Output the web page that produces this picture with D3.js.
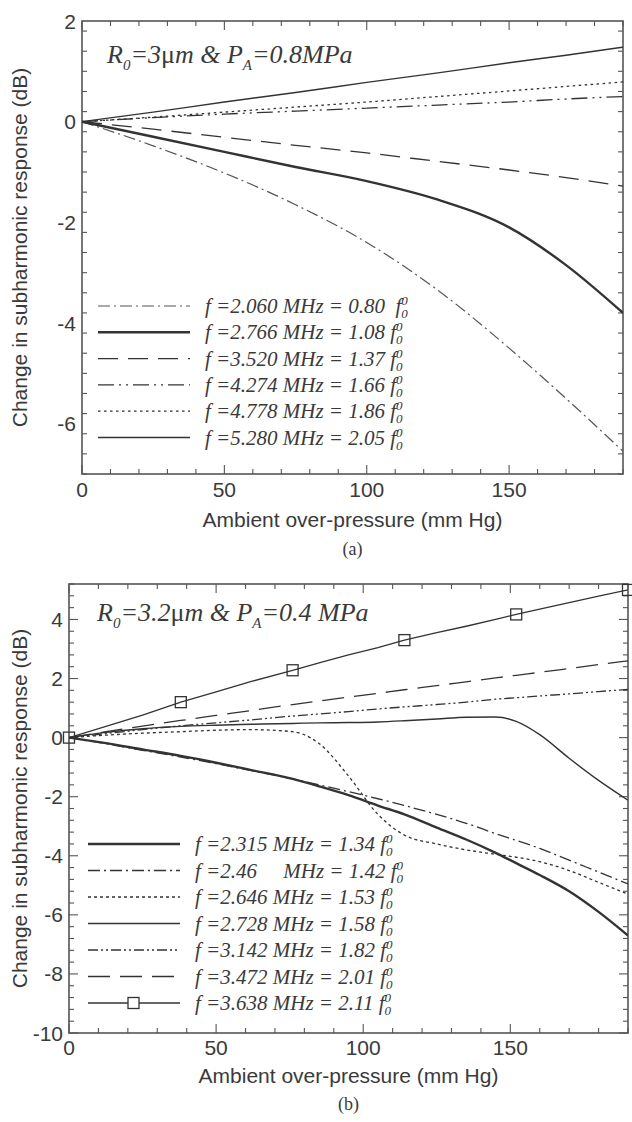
<!DOCTYPE html>
<html>
<head>
<meta charset="utf-8">
<script src="https://cdn.jsdelivr.net/npm/d3@7"></script>
<style>
  body { margin: 0; background: #fff; }
  svg { display: block; }
</style>
</head>
<body>
<div id="chart"></div>
<script>
// ---- panel (a) data ----
var aPressure = [0, 25, 50, 75, 100, 125, 150, 170, 190];
var aF2060 = [0, -0.48, -1.02, -1.65, -2.4, -3.35, -4.5, -5.5, -6.55];
var aF2766 = [0, -0.3, -0.6, -0.9, -1.18, -1.55, -2.1, -2.85, -3.8];
var aF3520 = [0, -0.15, -0.31, -0.47, -0.62, -0.79, -0.96, -1.11, -1.28];
var aF4274 = [0, 0.08, 0.15, 0.21, 0.27, 0.33, 0.39, 0.45, 0.5];
var aF4778 = [0, 0.09, 0.19, 0.29, 0.39, 0.5, 0.61, 0.7, 0.79];
var aF5280 = [0, 0.19, 0.39, 0.58, 0.78, 0.97, 1.17, 1.32, 1.48];
var aLabels = [
  ["2.060", "0.80\u00a0"], ["2.766", "1.08"], ["3.520", "1.37"],
  ["4.274", "1.66"], ["4.778", "1.86"], ["5.280", "2.05"]
];

// ---- panel (b) data ----
var bPressure = [0, 12, 25, 38, 50, 62, 76, 85, 95, 105, 114, 125, 135, 145, 152, 160, 170, 180, 190];
var bF2315 = [0, -0.18, -0.4, -0.62, -0.85, -1.1, -1.4, -1.65, -1.95, -2.3, -2.6, -3.05, -3.45, -3.9, -4.25, -4.65, -5.2, -5.9, -6.7];
var bF2460 = [0, -0.2, -0.43, -0.66, -0.88, -1.12, -1.4, -1.6, -1.83, -2.07, -2.3, -2.6, -2.9, -3.25, -3.48, -3.75, -4.15, -4.55, -4.95];
var bF2646 = [0, 0.08, 0.15, 0.2, 0.25, 0.27, 0.2, -0.2, -1.3, -2.6, -3.3, -3.6, -3.8, -3.95, -4.05, -4.2, -4.5, -4.9, -5.3];
var bF2728 = [0, 0.17, 0.3, 0.38, 0.42, 0.45, 0.48, 0.5, 0.51, 0.53, 0.57, 0.63, 0.69, 0.7, 0.55, 0.1, -0.7, -1.45, -2.12];
var bF3142 = [0, 0.13, 0.27, 0.4, 0.5, 0.6, 0.73, 0.8, 0.88, 0.97, 1.04, 1.12, 1.2, 1.3, 1.35, 1.41, 1.48, 1.56, 1.63];
var bF3472 = [0, 0.19, 0.39, 0.58, 0.75, 0.92, 1.12, 1.24, 1.37, 1.5, 1.62, 1.76, 1.89, 2.02, 2.11, 2.21, 2.34, 2.47, 2.6];
var bF3638 = [0, 0.36, 0.76, 1.2, 1.55, 1.9, 2.28, 2.53, 2.8, 3.05, 3.3, 3.55, 3.77, 4.0, 4.17, 4.35, 4.57, 4.79, 5.0];
var bMarkerPressure = [0, 38, 76, 114, 152, 190];
var bLabels = [
  ["2.315", "1.34"], ["2.46\u00a0\u00a0\u00a0\u00a0", "1.42"], ["2.646", "1.53"], ["2.728", "1.58"],
  ["3.142", "1.82"], ["3.472", "2.01"], ["3.638", "2.11"]
];

var W = 632, H = 1122;
var svg = d3.select("#chart").append("svg").attr("width", W).attr("height", H);

var sansFont = "'Liberation Sans', Arial, sans-serif";
var serifFont = "'Liberation Serif', 'Times New Roman', serif";
var axisCol = "#555";
var lineCol = "#333";
var textCol = "#3a3a3a";

function drawPanel(cfg) {
  var x = d3.scaleLinear().domain([0, 190]).range([cfg.left, cfg.right]);
  var y = d3.scaleLinear().domain(cfg.yDomain).range([cfg.bottom, cfg.top]);
  var g = svg.append("g");

  // inward ticks on all four sides
  var xMinor = d3.range(0, 191, 10);
  var yMinor = d3.range(cfg.yDomain[0], cfg.yDomain[1] + 0.001, 0.4);
  var tickData = [];
  xMinor.forEach(function (v) {
    var big = v % 50 === 0;
    tickData.push({ x1: x(v), x2: x(v), y1: cfg.bottom, y2: cfg.bottom - (big ? 9 : 5) });
    tickData.push({ x1: x(v), x2: x(v), y1: cfg.top, y2: cfg.top + (big ? 9 : 5) });
  });
  yMinor.forEach(function (v) {
    var r = Math.round(v * 10) / 10;
    var big = Math.abs(r % 2) < 0.01;
    tickData.push({ x1: cfg.left, x2: cfg.left + (big ? 9 : 5), y1: y(r), y2: y(r) });
    tickData.push({ x1: cfg.right, x2: cfg.right - (big ? 9 : 5), y1: y(r), y2: y(r) });
  });
  g.selectAll(".tick").data(tickData).enter().append("line")
    .attr("x1", function (d) { return d.x1; })
    .attr("x2", function (d) { return d.x2; })
    .attr("y1", function (d) { return d.y1; })
    .attr("y2", function (d) { return d.y2; })
    .attr("stroke", axisCol).attr("stroke-width", 1.1);

  g.append("rect")
    .attr("x", cfg.left).attr("y", cfg.top)
    .attr("width", cfg.right - cfg.left).attr("height", cfg.bottom - cfg.top)
    .attr("fill", "none").attr("stroke", axisCol).attr("stroke-width", 1.6);

  // tick labels
  g.selectAll(".xl").data([0, 50, 100, 150]).enter().append("text")
    .attr("x", function (d) { return x(d); })
    .attr("y", cfg.bottom + cfg.xLabelGap)
    .attr("text-anchor", "middle")
    .style("font-family", sansFont).style("font-size", "21px").style("fill", textCol)
    .text(function (d) { return d; });
  g.selectAll(".yl").data(cfg.yTicks).enter().append("text")
    .attr("x", cfg.left - 6)
    .attr("y", function (d) { return y(d) + 7.5; })
    .attr("text-anchor", "end")
    .style("font-family", sansFont).style("font-size", "21px").style("fill", textCol)
    .text(function (d) { return d; });

  g.append("text")
    .attr("x", (cfg.left + cfg.right) / 2)
    .attr("y", cfg.bottom + cfg.xTitleGap)
    .attr("text-anchor", "middle")
    .style("font-family", sansFont).style("font-size", "21px").style("fill", textCol)
    .text("Ambient over-pressure (mm Hg)");
  g.append("text")
    .attr("transform", "translate(" + cfg.yTitleX + "," + ((cfg.top + cfg.bottom) / 2) + ") rotate(-90)")
    .attr("text-anchor", "middle")
    .style("font-family", sansFont).style("font-size", "21px").style("fill", textCol)
    .text("Change in subharmonic response (dB)");
  g.append("text")
    .attr("x", (cfg.left + cfg.right) / 2)
    .attr("y", cfg.bottom + cfg.tagGap)
    .attr("text-anchor", "middle")
    .style("font-family", serifFont).style("font-size", "18px").style("fill", textCol)
    .text(cfg.tag);

  // annotation
  var ann = g.append("text")
    .attr("x", cfg.annX).attr("y", cfg.annY)
    .style("font-family", serifFont).style("font-style", "italic")
    .style("font-size", "26px").style("fill", textCol);
  ann.append("tspan").text("R");
  ann.append("tspan").attr("dy", 7).style("font-size", "15px").text("0");
  ann.append("tspan").attr("dy", -7).text("=" + cfg.annR);
  ann.append("tspan").style("font-style", "normal").text("\u03bc");
  ann.append("tspan").text("m & P");
  ann.append("tspan").attr("dy", 7).style("font-size", "15px").text("A");
  ann.append("tspan").attr("dy", -7).text("=" + cfg.annP);

  // curves
  var clip = "clip" + cfg.tag.replace(/\W/g, "");
  svg.append("clipPath").attr("id", clip).append("rect")
    .attr("x", cfg.left).attr("y", cfg.top)
    .attr("width", cfg.right - cfg.left).attr("height", cfg.bottom - cfg.top);

  var smooth = d3.line()
    .x(function (d) { return x(d[0]); })
    .y(function (d) { return y(d[1]); })
    .curve(d3.curveMonotoneX);
  var straight = d3.line()
    .x(function (d) { return x(d[0]); })
    .y(function (d) { return y(d[1]); });

  var curves = g.append("g").attr("clip-path", "url(#" + clip + ")");
  cfg.series.forEach(function (s) {
    var pts = cfg.xs.map(function (v, i) { return [v, s.values[i]]; });
    curves.append("path")
      .datum(pts)
      .attr("d", s.marker ? straight : smooth)
      .attr("fill", "none")
      .attr("stroke", s.color || lineCol)
      .attr("stroke-width", s.width)
      .attr("stroke-dasharray", s.dash);
  });

  // square markers
  cfg.series.forEach(function (s) {
    if (!s.marker) return;
    var mpts = s.marker.map(function (v) { return [v, s.values[cfg.xs.indexOf(v)]]; });
    g.selectAll(".mk").data(mpts).enter().append("rect")
      .attr("x", function (d) { return x(d[0]) - 5.5; })
      .attr("y", function (d) { return y(d[1]) - 5.5; })
      .attr("width", 11).attr("height", 11)
      .attr("fill", "none").attr("stroke", lineCol).attr("stroke-width", 1.3);
  });

  // legend
  var leg = g.selectAll(".leg").data(cfg.series).enter().append("g")
    .attr("transform", function (d, i) {
      return "translate(0," + (cfg.legY + i * cfg.legStep) + ")";
    });
  leg.append("line")
    .attr("x1", cfg.legX1).attr("x2", cfg.legX2).attr("y1", 0).attr("y2", 0)
    .attr("stroke", function (d) { return d.color || lineCol; })
    .attr("stroke-width", function (d) { return d.width; })
    .attr("stroke-dasharray", function (d) { return d.dash; });
  leg.filter(function (d) { return d.marker; }).append("rect")
    .attr("x", cfg.legX1 + 40).attr("y", -5.5)
    .attr("width", 11).attr("height", 11)
    .attr("fill", "#fff").attr("stroke", lineCol).attr("stroke-width", 1.3);
  var lt = leg.append("text")
    .attr("x", cfg.legTextX).attr("y", 7)
    .style("font-family", serifFont).style("font-style", "italic")
    .style("font-size", "21px").style("fill", textCol);
  lt.append("tspan").text(function (d, i) { return "f =" + cfg.labels[i][0] + " MHz = " + cfg.labels[i][1] + " f"; });
  lt.append("tspan").attr("dy", 5).style("font-size", "13px").text("0");
  lt.append("tspan").attr("dy", -13).attr("dx", -6.5).style("font-size", "13px").text("0");
}

drawPanel({
  left: 82, right: 623, top: 21, bottom: 474,
  yDomain: [-7, 2], yTicks: [2, 0, -2, -4, -6],
  xs: aPressure,
  yTitleX: 27, tag: "(a)", xLabelGap: 23, xTitleGap: 53, tagGap: 81,
  annX: 107, annY: 63, annR: "3", annP: "0.8MPa",
  legY: 306, legStep: 26.3, legX1: 98, legX2: 190, legTextX: 205,
  labels: aLabels,
  series: [
    { values: aF2060, width: 1.2, dash: "12,4,2,4", color: "#555" },
    { values: aF2766, width: 2.4, dash: null },
    { values: aF3520, width: 1.3, dash: "20,10" },
    { values: aF4274, width: 1.3, dash: "16,5,2,5,2,5" },
    { values: aF4778, width: 1.3, dash: "2.5,3.5" },
    { values: aF5280, width: 1.4, dash: null }
  ]
});

drawPanel({
  left: 69, right: 628, top: 584, bottom: 1033,
  yDomain: [-10, 5.2], yTicks: [4, 2, 0, -2, -4, -6, -8, -10],
  xs: bPressure,
  yTitleX: 27, tag: "(b)", xLabelGap: 22, xTitleGap: 50, tagGap: 77,
  annX: 97, annY: 621, annR: "3.2", annP: "0.4 MPa",
  legY: 844, legStep: 26.5, legX1: 88, legX2: 180, legTextX: 195,
  labels: bLabels,
  series: [
    { values: bF2315, width: 2.4, dash: null },
    { values: bF2460, width: 1.3, dash: "12,4,2,4" },
    { values: bF2646, width: 1.3, dash: "3,3" },
    { values: bF2728, width: 1.4, dash: null },
    { values: bF3142, width: 1.3, dash: "10,3,2,3,2,3" },
    { values: bF3472, width: 1.3, dash: "22,10" },
    { values: bF3638, width: 1.3, dash: null, marker: bMarkerPressure }
  ]
});
</script>
</body>
</html>
